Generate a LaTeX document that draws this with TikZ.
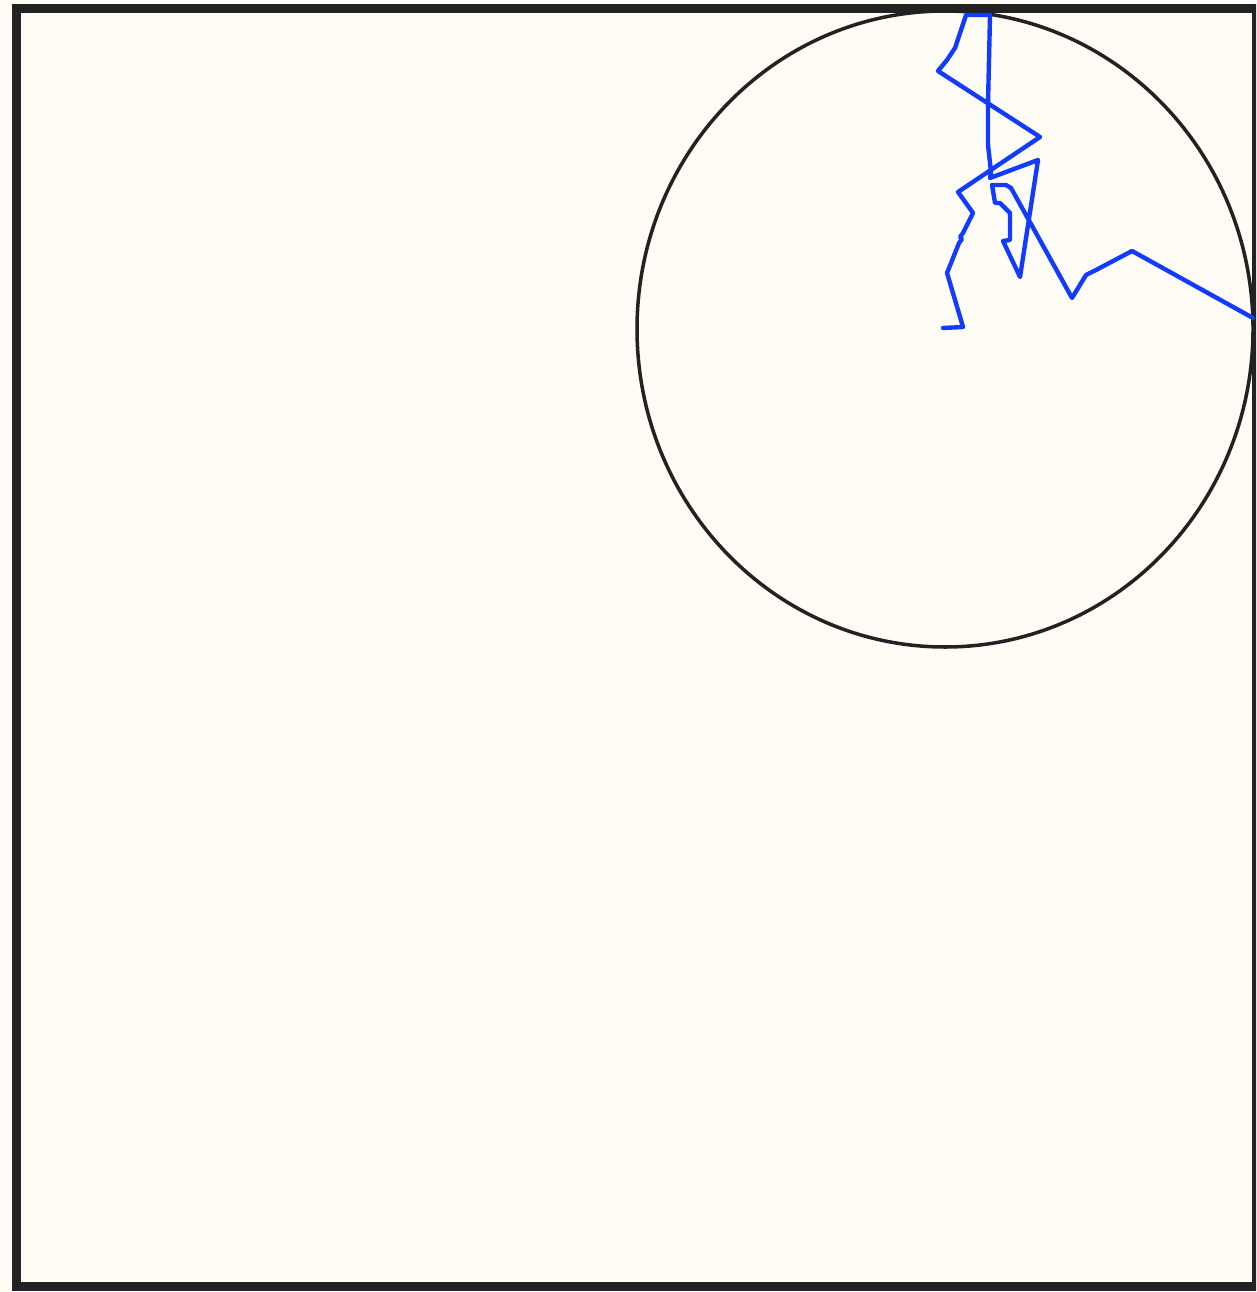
\documentclass[tikz,border=0pt]{standalone}
\definecolor{bg}{RGB}{255,252,245}
\definecolor{frame}{RGB}{34,34,34}
\definecolor{walk}{RGB}{17,60,255}
\begin{document}
\begin{tikzpicture}[x=0.01cm,y=-0.01cm,
  framestyle/.style={draw=frame,line width=2.6pt},
  circstyle/.style={draw=frame,line width=1pt},
  walkstyle/.style={draw=walk,line width=1.25pt,line join=round,line cap=round}]
\useasboundingbox (0,0) rectangle (1256,1292);
\fill[bg] (0,0) rectangle (1256,1292);
\begin{scope}
\clip (0,0) rectangle (1256,1292);
\draw[framestyle] (16.5,8.5) rectangle (1256.5,1286.5);
\draw[circstyle] (945,329) ellipse [x radius=308, y radius=318];
\draw[walkstyle] (943,328) -- (963,327) -- (947,273) -- (959,243) -- (962,239) -- (960,237) -- (963,233)
  -- (973,213) -- (958,192) -- (1040,137) -- (938,71) -- (947,60) -- (955,48) -- (966,15) -- (990,15)
  -- (988,103) -- (988,145) -- (991,172) -- (990,178) -- (1038,160) -- (1020,277) -- (1003,241)
  -- (1010,240) -- (1010,213) -- (1000,203) -- (995,203) -- (992,185) -- (1006,185) -- (1011,188)
  -- (1072,298) -- (1086,275) -- (1096,270) -- (1132,251) -- (1253,318);
\end{scope}
\end{tikzpicture}
\end{document}
